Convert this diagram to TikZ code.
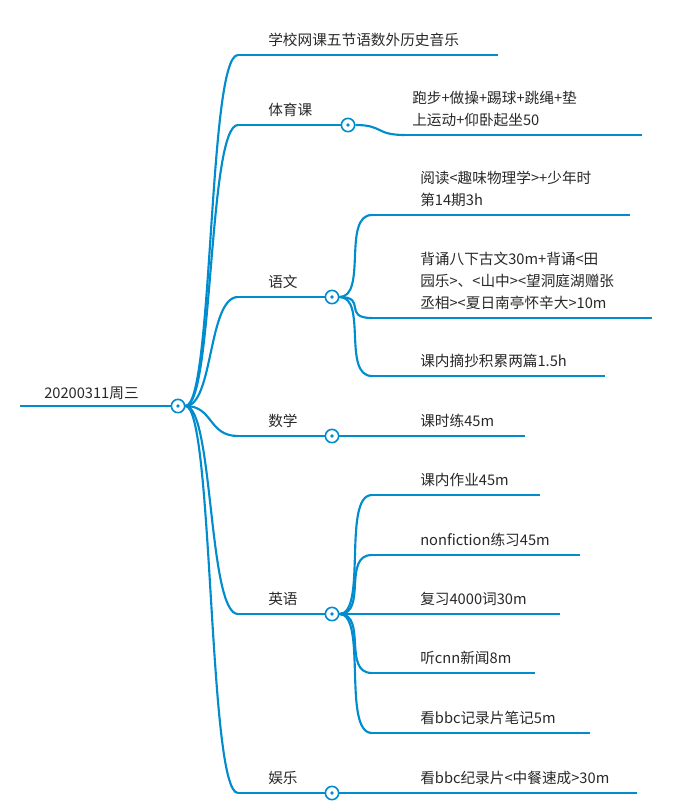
\documentclass[tikz,border=0pt]{standalone}
\usepackage{fontspec}
\setmainfont{Noto Sans CJK SC}
\usetikzlibrary{calc}
\definecolor{xblue}{RGB}{0,140,205}
\definecolor{xtext}{RGB}{40,40,40}
\tikzset{
  rama/.style={xblue, line width=1.6pt},
  txt/.style={anchor=south west, text=xtext, inner sep=0pt, align=left,
    font=\fontsize{11}{16.5}\selectfont},
  nudo/.style={circle, draw=xblue, fill=white, line width=1.2pt, minimum size=10pt, inner sep=0pt,
    path picture={\fill[xblue] (path picture bounding box.center) circle (1.4pt);}}
}
\newcommand{\curva}[2]{\draw[rama] (#1) .. controls ($(#1)+(28,0)$) and ($(#2)+(-30,0)$) .. (#2);}
\begin{document}
\begin{tikzpicture}[x=0.75pt,y=-0.75pt]
\useasboundingbox (0,0) rectangle (686,811);

%%%%%%%%%%%%%%%%%%%%%%%%%%%%%%%%%%%%%%%%	RAIZ
\coordinate (r0) at (20,406);
\node[nudo] (raiz) at (178,406) {};
\draw[rama] (r0) -- (raiz.west);
\node[txt] at (44,400) {20200311周三};

%%%%%%%%%%%%%%%%%%%%%%%%%%%%%%%%%%%%%%%%	RAMAS
\foreach \nombre/\y/\fin/\texto in {
  escuela/55/498/学校网课五节语数外历史音乐,
  educ/125/348/体育课,
  chino/297/332/语文,
  mate/436/332/数学,
  ingles/614/332/英语,
  ocio/793/332/娱乐}{
  \coordinate (\nombre-a) at (238,\y);
  \coordinate (\nombre-b) at (\fin,\y);
  \curva{raiz.east}{\nombre-a}
  \draw[rama] (\nombre-a) -- (\nombre-b);
  \node[txt] at (268,\y-8) {\texto};
}
\foreach \nombre in {educ,chino,mate,ingles,ocio}
  \node[nudo] (\nombre-n) at (\nombre-b) {};

%%%%%%%%%%%%%%%%%%%%%%%%%%%%%%%%%%%%%%%%	HOJAS
\foreach \padre/\ini/\y/\fin/\x/\texto in {
  educ/405/135/642/412/{跑步+做操+踢球+跳绳+垫\\上运动+仰卧起坐50},
  chino/372/215/630/420/{阅读<趣味物理学>+少年时\\第14期3h},
  chino/372/318/652/420/{背诵八下古文30m+背诵<田\\园乐>、<山中><望洞庭湖赠张\\丞相><夏日南亭怀辛大>10m},
  chino/372/376/605/420/课内摘抄积累两篇1.5h,
  mate/372/436/525/420/课时练45m,
  ingles/372/495/540/420/课内作业45m,
  ingles/372/555/580/420/nonfiction练习45m,
  ingles/372/614/560/420/复习4000词30m,
  ingles/372/673/535/420/听cnn新闻8m,
  ingles/372/733/590/420/看bbc记录片笔记5m,
  ocio/372/793/637/420/看bbc纪录片<中餐速成>30m}{
  \coordinate (h-a) at (\ini,\y);
  \curva{\padre-n.east}{h-a}
  \draw[rama] (h-a) -- (\fin,\y);
  \node[txt] at (\x,\y-8) {\texto};
}
\end{tikzpicture}
\end{document}
